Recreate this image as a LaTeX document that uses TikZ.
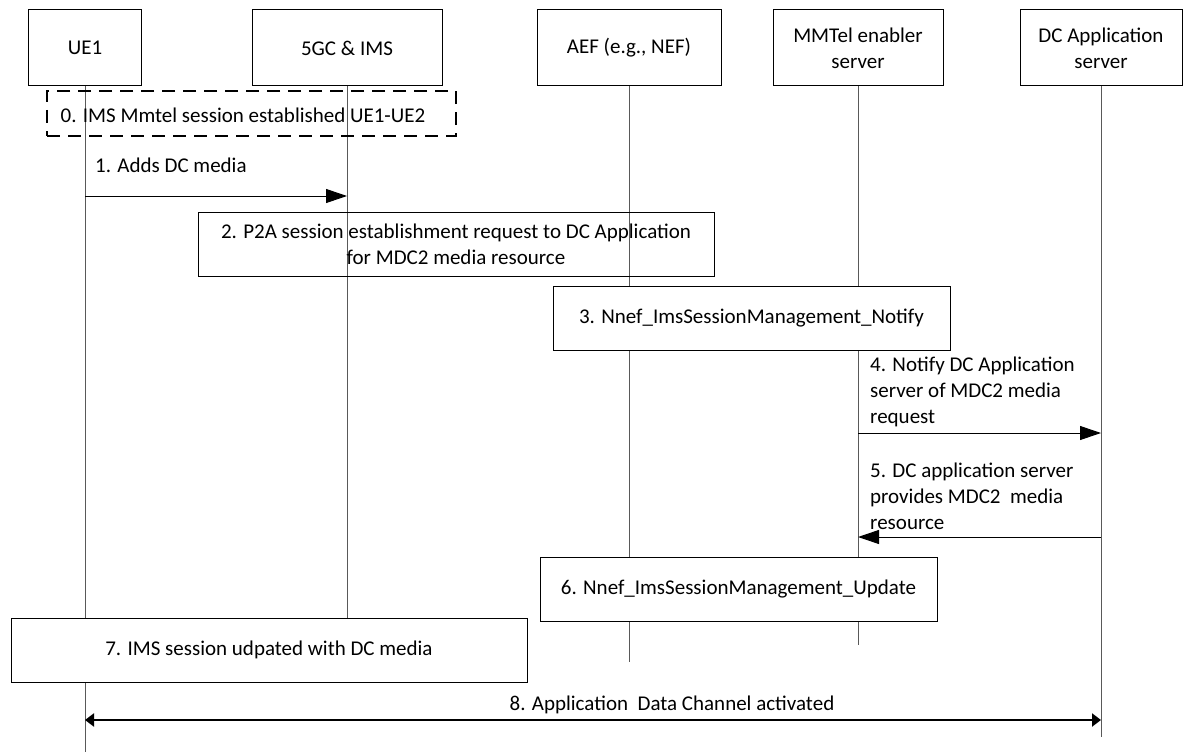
\documentclass[tikz,border=0pt]{standalone}
\usepackage{fontspec}
\setmainfont{Carlito}
\usetikzlibrary{arrows.meta}
\begin{document}
\begin{tikzpicture}[x=1pt,y=-1pt,
  every node/.style={font=\fontsize{21}{26}\selectfont, inner sep=0pt},
  hbox/.style={draw, line width=1pt, minimum height=76pt, align=center},
  stepbox/.style={draw, fill=white, line width=1pt, minimum height=64pt, align=center},
  life/.style={draw=black!65, line width=1pt},
  msg/.style={line width=1pt, -{Triangle[length=21pt,width=14pt]}},
  lbl/.style={align=left, anchor=west}]
\useasboundingbox (0,0) rectangle (1184,752);
% headers
\node[hbox, minimum width=113pt] (ue1) at (85,48) {UE1};
\node[hbox, minimum width=190pt] (gc) at (347,48) {5GC \& IMS};
\node[hbox, minimum width=184pt] (aef) at (629,48) {AEF (e.g., NEF)};
\node[hbox, minimum width=170pt] (mmt) at (858,48) {MMTel enabler\\server};
\node[hbox, minimum width=162pt] (dca) at (1101,48) {DC Application\\server};
% lifeline ends
\coordinate (ue1e) at (85,752);
\coordinate (gce) at (347,618);
\coordinate (aefe) at (629,662);
\coordinate (mmte) at (858,645);
\coordinate (dcae) at (1101,737);
\draw[life] (ue1) -- (ue1e);
\draw[life] (gc) -- (gce);
\draw[life] (aef) -- (aefe);
\draw[life] (mmt) -- (mmte);
\draw[life] (dca) -- (dcae);
% step 0
\node[draw, line width=2pt, dash pattern=on 13pt off 8pt, minimum width=409pt, minimum height=45pt] (s0) at (251.5,113.5) {};
\node (t0) at (243,115) {0. IMS Mmtel session established UE1-UE2};
% step 1
\coordinate (r1) at (0,196);
\node[lbl] (t1) at (95,165) {1. Adds DC media};
\draw[msg] (ue1 |- r1) -- (gc |- r1);
% step 2
\node[draw, line width=1pt, minimum width=516pt, minimum height=64pt, align=center] (s2) at (456,244) {2. P2A session establishment request to DC Application\\for MDC2 media resource};
% step 3
\node[stepbox, minimum width=397pt] (s3) at (751.5,318) {3. Nnef\_ImsSessionManagement\_Notify};
% step 4
\coordinate (r4) at (0,433);
\node[lbl] (t4) at (870,392) {4. Notify DC Application\\server of MDC2 media\\request};
\draw[msg] (mmt |- r4) -- (dca |- r4);
% step 5
\coordinate (r5) at (0,537);
\node[lbl] (t5) at (870,496) {5. DC application server\\provides MDC2\ \ media\\resource};
\draw[msg] (dca |- r5) -- (mmt |- r5);
% step 6
\node[stepbox, minimum width=397pt] (s6) at (738.5,589) {6. Nnef\_ImsSessionManagement\_Update};
% step 7
\node[stepbox, minimum width=516pt] (s7) at (269,650) {7. IMS session udpated with DC media};
% step 8
\coordinate (r8) at (0,720);
\node (t8) at (672,705) {8. Application\ \ Data Channel activated};
\draw[line width=2.5pt, {Triangle[length=9pt,width=13pt]}-{Triangle[length=9pt,width=13pt]}] (ue1 |- r8) -- (dca |- r8);
\end{tikzpicture}
\end{document}
